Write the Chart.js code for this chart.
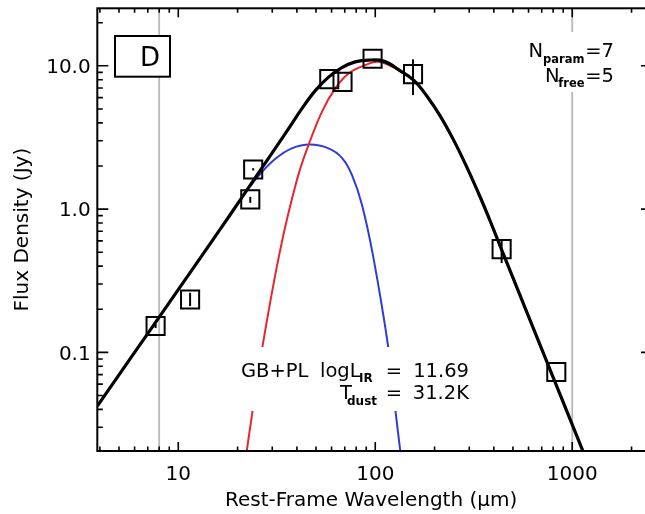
<!DOCTYPE html>
<html><head><meta charset="utf-8">
<script src="https://cdn.jsdelivr.net/npm/chart.js@4"></script>
<style>
html,body{margin:0;padding:0;background:#fff;overflow:hidden;width:645px;height:514px}
#wrap{position:absolute;left:0;top:0;width:645px;height:514px}
</style>
</head><body>
<div id="wrap"><canvas id="c" width="645" height="514"></canvas></div>
<script>
// ---- observed photometry (rest-frame wavelength in micron, flux density in Jy)
const obsWavelength = [7.67, 11.48, 23.2, 24.0, 58.4, 68.2, 96.9, 155.5, 438, 830];
const obsFlux       = [0.1527, 0.234, 1.169, 1.89, 8.08, 7.73, 11.19, 8.75, 0.526, 0.0729];
const obsFluxLow    = [0.148, 0.2104, 1.106, 1.86, 8.08, 7.73, 11.19, 6.25, 0.42, 0.0729];
const obsFluxHigh   = [0.158, 0.2606, 1.218, 1.93, 8.08, 7.73, 11.19, 11.1, 0.60, 0.0729];

// ---- total fit GB+PL (black)
const totalWavelength = [3.88, 7.92, 10.06, 15.1, 18.3, 25.5, 31.0, 36.3, 42.4, 49.6, 57.9, 67.7, 79.1, 92.5, 110.2, 134, 156.6, 183.1, 213.9, 250, 292.4, 341.7, 384.0, 438.3, 578.3, 775, 1136, 1237];
const totalFlux       = [0.0422, 0.1729, 0.2774, 0.6195, 0.9096, 1.783, 2.644, 3.645, 5.027, 6.713, 8.340, 9.714, 10.65, 10.96, 10.78, 9.228, 7.947, 6.136, 4.450, 3.030, 1.948, 1.205, 0.8195, 0.5200, 0.2021, 0.0746, 0.02028, 0.01516];

// ---- greybody component (red)
const greybodyWavelength = [21.85, 23.79, 26.57, 32.9, 40.0, 45.8, 53.6, 62.6, 73.2, 88.9, 103.9, 134, 156.6, 183.1, 213.9, 250, 292.4, 341.7, 384.0, 438.3, 578.3, 775, 1136, 1237];
const greybodyFlux       = [0.01716, 0.0385, 0.1038, 0.5174, 1.594, 2.797, 4.775, 6.956, 8.85, 10.11, 10.66, 9.2, 7.93, 6.12, 4.44, 3.02, 1.94, 1.2, 0.817, 0.519, 0.2018, 0.0745, 0.02025, 0.01514];

// ---- power-law component (blue)
const powerLawWavelength = [23.2, 25.5, 31.0, 37.7, 46.7, 57.9, 67.7, 76.1, 85.6, 98.0, 116.8, 126.4, 134.0, 135.9];
const powerLawFlux       = [1.445, 1.700, 2.234, 2.652, 2.819, 2.652, 2.280, 1.735, 1.0715, 0.4529, 0.1054, 0.0398, 0.0205, 0.01716];

// ---- axes
const xTickValues = [10, 100, 1000];
const yTickValues = [0.1, 1, 10];
const markerWavelengths = [8, 1000];

const pts = (xs, ys) => xs.map((v, i) => ({x: v, y: ys[i]}));
const FONT = "'DejaVu Sans', sans-serif";
const RIGHT_FRAME_OFFSET = 7; // right frame sits just beyond the visible image edge

const noPad = s => { s.paddingLeft = 0; s.paddingRight = 0; s.paddingTop = 0; s.paddingBottom = 0; };

const decor = {
  id: 'decor',
  beforeDatasetsDraw(chart) {
    const {ctx, chartArea: a, scales: {x}} = chart;
    ctx.save();
    ctx.strokeStyle = '#b8b8b8';
    ctx.lineWidth = 1.8;
    markerWavelengths.forEach(v => {
      const px = x.getPixelForValue(v);
      ctx.beginPath(); ctx.moveTo(px, a.top); ctx.lineTo(px, a.bottom); ctx.stroke();
    });
    ctx.restore();
  },
  afterDatasetsDraw(chart) {
    const {ctx, chartArea: a, scales: {x, y}} = chart;
    ctx.save();
    // error bars
    ctx.strokeStyle = '#000'; ctx.lineWidth = 2;
    obsWavelength.forEach((w, i) => {
      if (obsFluxLow[i] === obsFluxHigh[i]) return;
      const px = x.getPixelForValue(w);
      ctx.beginPath();
      ctx.moveTo(px, y.getPixelForValue(obsFluxLow[i]));
      ctx.lineTo(px, y.getPixelForValue(obsFluxHigh[i]));
      ctx.stroke();
    });
    // white backgrounds for labels
    ctx.fillStyle = '#fff';
    ctx.fillRect(236, 347, 238, 64);
    ctx.fillRect(525, 32, 95, 60);
    // D box
    ctx.fillRect(115, 36, 55, 41);
    ctx.strokeStyle = '#000'; ctx.lineWidth = 2;
    ctx.strokeRect(115, 36, 55, 40.7);
    ctx.fillStyle = '#000';
    ctx.textBaseline = 'alphabetic';
    ctx.font = `26px ${FONT}`;
    ctx.textAlign = 'center';
    ctx.fillText('D', 150, 65.5);

    // N_param / N_free
    ctx.font = `19.5px ${FONT}`;
    ctx.textAlign = 'right';
    ctx.fillText('=7', 614, 57);
    ctx.fillText('N', 543, 57);
    ctx.fillText('=5', 614, 81.7);
    ctx.fillText('N', 559.5, 81.7);
    ctx.font = `bold 11.5px ${FONT}`;
    ctx.fillText('param', 584.5, 62.5);
    ctx.fillText('free', 584.5, 86.5);

    // GB+PL block
    ctx.font = `19.5px ${FONT}`;
    ctx.textAlign = 'left';
    ctx.fillText('GB+PL', 241, 377);
    ctx.fillText('logL', 320, 377);
    ctx.fillText('T', 340, 398.5);
    ctx.textAlign = 'center';
    ctx.fillText('=', 394, 377);
    ctx.fillText('=', 394, 398.5);
    ctx.textAlign = 'right';
    ctx.fillText('11.69', 469, 377);
    ctx.fillText('31.2K', 469, 398.5);
    ctx.font = `bold 12px ${FONT}`;
    ctx.textAlign = 'left';
    ctx.fillText('IR', 359, 381.5);
    ctx.fillText('dust', 347, 405);

    // frame and inward ticks on all sides
    const right = a.right + RIGHT_FRAME_OFFSET;
    ctx.strokeStyle = '#000';
    ctx.lineWidth = 2;
    ctx.strokeRect(a.left, a.top, right - a.left, a.bottom - a.top);
    ctx.lineWidth = 1.6;
    for (let d = 1; d <= 1000; d *= 10) {
      for (let k = 1; k <= 9; k++) {
        const v = d * k;
        if (v < x.min || v > x.max) continue;
        const px = x.getPixelForValue(v);
        const len = k === 1 ? 9 : 4.5;
        ctx.beginPath();
        ctx.moveTo(px, a.bottom); ctx.lineTo(px, a.bottom - len);
        ctx.moveTo(px, a.top); ctx.lineTo(px, a.top + len);
        ctx.stroke();
      }
    }
    for (let d = 0.01; d <= 10.0001; d *= 10) {
      for (let k = 1; k <= 9; k++) {
        const v = d * k;
        if (v < y.min || v > y.max) continue;
        const py = y.getPixelForValue(v);
        const len = k === 1 ? 11 : 5.5;
        ctx.beginPath();
        ctx.moveTo(a.left, py); ctx.lineTo(a.left + len, py);
        ctx.moveTo(right, py); ctx.lineTo(right - len, py);
        ctx.stroke();
      }
    }
    ctx.restore();
  }
};

Chart.defaults.font.family = FONT;
Chart.defaults.color = '#000';

new Chart(document.getElementById('c'), {
  type: 'scatter',
  data: {
    datasets: [
      {label: 'Observed', data: pts(obsWavelength, obsFlux), showLine: false,
       pointStyle: 'rect', pointRadius: 12.8, pointHoverRadius: 12.8, pointBorderWidth: 2,
       borderColor: '#000', backgroundColor: 'rgba(0,0,0,0)', order: 0},
      {label: 'GB+PL', data: pts(totalWavelength, totalFlux), showLine: true,
       borderColor: '#000', borderWidth: 3.2, pointRadius: 0, tension: 0.4, order: 1},
      {label: 'Greybody', data: pts(greybodyWavelength, greybodyFlux), showLine: true,
       borderColor: '#e5262c', borderWidth: 2, pointRadius: 0, tension: 0.4, order: 2},
      {label: 'Power law', data: pts(powerLawWavelength, powerLawFlux), showLine: true,
       borderColor: '#2c3cd8', borderWidth: 2, pointRadius: 0, tension: 0.4, order: 3}
    ]
  },
  options: {
    responsive: false,
    animation: false,
    layout: {autoPadding: false, padding: {left: 0, right: 0, top: 8.3, bottom: 0}},
    plugins: {legend: {display: false}, tooltip: {enabled: false}},
    scales: {
      x: {
        type: 'logarithmic', min: 3.88, max: 2341,
        grid: {display: false, drawTicks: false}, border: {display: false},
        afterBuildTicks: s => { s.ticks = xTickValues.map(v => ({value: v})); },
        afterFit: s => { s.height = 63; noPad(s); },
        ticks: {font: {size: 20}, color: '#000', padding: 12, maxRotation: 0, autoSkip: false,
                callback: v => String(v)},
        title: {display: true, text: 'Rest-Frame Wavelength (μm)', font: {size: 20}, color: '#000',
                padding: {top: 0, bottom: 1.5}}
      },
      y: {
        type: 'logarithmic', min: 0.0205, max: 25.2,
        grid: {display: false, drawTicks: false}, border: {display: false},
        afterBuildTicks: s => { s.ticks = yTickValues.map(v => ({value: v})); },
        afterFit: s => { s.width = 97.3; noPad(s); },
        ticks: {font: {size: 20}, color: '#000', padding: 6.6, labelOffset: 2, autoSkip: false,
                callback: v => Number(v).toFixed(1)},
        title: {display: true, text: 'Flux Density (Jy)', font: {size: 20}, color: '#000',
                padding: {top: 10.5, bottom: 0}}
      }
    }
  },
  plugins: [decor]
});
</script>
</body></html>
